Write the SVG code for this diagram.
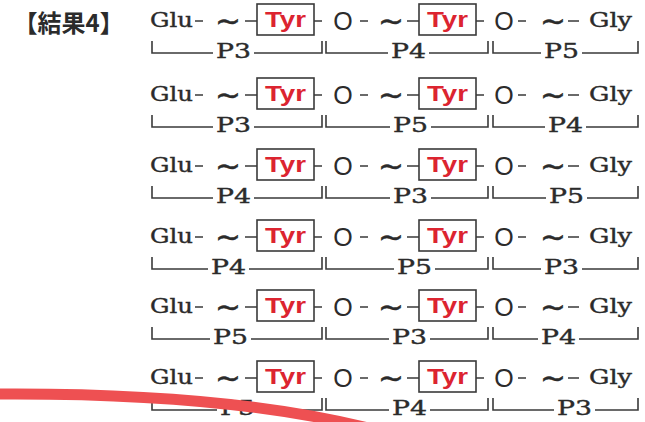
<svg xmlns="http://www.w3.org/2000/svg" width="645" height="422" viewBox="0 0 645 422">
<style>
.aa{font-family:"DejaVu Serif","Liberation Serif",serif;font-size:21px;fill:#2b2b2b;stroke:#2b2b2b;stroke-width:0.4}
.pl{font-family:"DejaVu Serif","Liberation Serif",serif;font-size:21px;fill:#2b2b2b;stroke:#2b2b2b;stroke-width:0.4}
.ty{font-family:"Liberation Sans","DejaVu Sans",sans-serif;font-size:22px;font-weight:bold;fill:#dc2430}
.ox{font-family:"Liberation Sans","DejaVu Sans",sans-serif;font-size:25px;fill:#2b2b2b;text-anchor:middle}
.wv{font-family:"DejaVu Sans",sans-serif;font-size:31px;fill:#2b2b2b;stroke:#2b2b2b;stroke-width:0.5;text-anchor:middle}
.bx{fill:#fff;stroke:#3a3a3a;stroke-width:1.6}
.ln{fill:none;stroke:#3a3a3a;stroke-width:1.6}
.tt{font-family:"Noto Sans CJK JP","Noto Sans CJK SC",sans-serif;font-size:24px;font-weight:bold;fill:#2b2b2b}
</style>
<rect width="645" height="422" fill="#ffffff"/>
<g id="title"><text class="tt" x="13.5" y="32">【結果4】</text></g>

<g id="row1">
<g id="r1-glu"><text class="aa" x="150" y="27" textLength="43" lengthAdjust="spacingAndGlyphs">Glu</text></g>
<g id="r1-w1"><text class="wv" x="228" y="31">~</text></g>
<g id="r1-tyr1"><rect class="bx" x="257" y="4" width="57" height="31"/><text class="ty" x="265" y="27" textLength="41" lengthAdjust="spacingAndGlyphs">Tyr</text></g>
<g id="r1-o1"><text class="ox" x="343" y="30">O</text></g>
<g id="r1-w2"><text class="wv" x="391" y="31">~</text></g>
<g id="r1-tyr2"><rect class="bx" x="419" y="4" width="57" height="31"/><text class="ty" x="427" y="27" textLength="41" lengthAdjust="spacingAndGlyphs">Tyr</text></g>
<g id="r1-o2"><text class="ox" x="504" y="30">O</text></g>
<g id="r1-w3"><text class="wv" x="553" y="31">~</text></g>
<g id="r1-gly"><text class="aa" x="589" y="27" textLength="43" lengthAdjust="spacingAndGlyphs">Gly</text></g>
<g id="r1-p"><text class="pl" x="216" y="58" textLength="35" lengthAdjust="spacingAndGlyphs">P3</text><text class="pl" x="391" y="58" textLength="35" lengthAdjust="spacingAndGlyphs">P4</text><text class="pl" x="544" y="58" textLength="35" lengthAdjust="spacingAndGlyphs">P5</text></g>
</g>

<g id="row2">
<g id="r2-glu"><text class="aa" x="150" y="101" textLength="43" lengthAdjust="spacingAndGlyphs">Glu</text></g>
<g id="r2-w1"><text class="wv" x="228" y="105">~</text></g>
<g id="r2-tyr1"><rect class="bx" x="257" y="78" width="57" height="31"/><text class="ty" x="265" y="101" textLength="41" lengthAdjust="spacingAndGlyphs">Tyr</text></g>
<g id="r2-o1"><text class="ox" x="343" y="104">O</text></g>
<g id="r2-w2"><text class="wv" x="391" y="105">~</text></g>
<g id="r2-tyr2"><rect class="bx" x="419" y="78" width="57" height="31"/><text class="ty" x="427" y="101" textLength="41" lengthAdjust="spacingAndGlyphs">Tyr</text></g>
<g id="r2-o2"><text class="ox" x="504" y="104">O</text></g>
<g id="r2-w3"><text class="wv" x="553" y="105">~</text></g>
<g id="r2-gly"><text class="aa" x="589" y="101" textLength="43" lengthAdjust="spacingAndGlyphs">Gly</text></g>
<g id="r2-p"><text class="pl" x="216" y="132" textLength="35" lengthAdjust="spacingAndGlyphs">P3</text><text class="pl" x="393" y="132" textLength="35" lengthAdjust="spacingAndGlyphs">P5</text><text class="pl" x="548" y="132" textLength="35" lengthAdjust="spacingAndGlyphs">P4</text></g>
</g>

<g id="row3">
<g id="r3-glu"><text class="aa" x="150" y="172" textLength="43" lengthAdjust="spacingAndGlyphs">Glu</text></g>
<g id="r3-w1"><text class="wv" x="228" y="176">~</text></g>
<g id="r3-tyr1"><rect class="bx" x="257" y="149" width="57" height="31"/><text class="ty" x="265" y="172" textLength="41" lengthAdjust="spacingAndGlyphs">Tyr</text></g>
<g id="r3-o1"><text class="ox" x="343" y="175">O</text></g>
<g id="r3-w2"><text class="wv" x="391" y="176">~</text></g>
<g id="r3-tyr2"><rect class="bx" x="419" y="149" width="57" height="31"/><text class="ty" x="427" y="172" textLength="41" lengthAdjust="spacingAndGlyphs">Tyr</text></g>
<g id="r3-o2"><text class="ox" x="504" y="175">O</text></g>
<g id="r3-w3"><text class="wv" x="553" y="176">~</text></g>
<g id="r3-gly"><text class="aa" x="589" y="172" textLength="43" lengthAdjust="spacingAndGlyphs">Gly</text></g>
<g id="r3-p"><text class="pl" x="216" y="203" textLength="35" lengthAdjust="spacingAndGlyphs">P4</text><text class="pl" x="393" y="203" textLength="35" lengthAdjust="spacingAndGlyphs">P3</text><text class="pl" x="549" y="203" textLength="35" lengthAdjust="spacingAndGlyphs">P5</text></g>
</g>

<g id="row4">
<g id="r4-glu"><text class="aa" x="150" y="243" textLength="43" lengthAdjust="spacingAndGlyphs">Glu</text></g>
<g id="r4-w1"><text class="wv" x="228" y="247">~</text></g>
<g id="r4-tyr1"><rect class="bx" x="257" y="220" width="57" height="31"/><text class="ty" x="265" y="243" textLength="41" lengthAdjust="spacingAndGlyphs">Tyr</text></g>
<g id="r4-o1"><text class="ox" x="343" y="246">O</text></g>
<g id="r4-w2"><text class="wv" x="391" y="247">~</text></g>
<g id="r4-tyr2"><rect class="bx" x="419" y="220" width="57" height="31"/><text class="ty" x="427" y="243" textLength="41" lengthAdjust="spacingAndGlyphs">Tyr</text></g>
<g id="r4-o2"><text class="ox" x="504" y="246">O</text></g>
<g id="r4-w3"><text class="wv" x="553" y="247">~</text></g>
<g id="r4-gly"><text class="aa" x="589" y="243" textLength="43" lengthAdjust="spacingAndGlyphs">Gly</text></g>
<g id="r4-p"><text class="pl" x="211" y="274" textLength="35" lengthAdjust="spacingAndGlyphs">P4</text><text class="pl" x="397" y="274" textLength="35" lengthAdjust="spacingAndGlyphs">P5</text><text class="pl" x="544" y="274" textLength="35" lengthAdjust="spacingAndGlyphs">P3</text></g>
</g>

<g id="row5">
<g id="r5-glu"><text class="aa" x="150" y="313" textLength="43" lengthAdjust="spacingAndGlyphs">Glu</text></g>
<g id="r5-w1"><text class="wv" x="228" y="317">~</text></g>
<g id="r5-tyr1"><rect class="bx" x="257" y="290" width="57" height="31"/><text class="ty" x="265" y="313" textLength="41" lengthAdjust="spacingAndGlyphs">Tyr</text></g>
<g id="r5-o1"><text class="ox" x="343" y="316">O</text></g>
<g id="r5-w2"><text class="wv" x="391" y="317">~</text></g>
<g id="r5-tyr2"><rect class="bx" x="419" y="290" width="57" height="31"/><text class="ty" x="427" y="313" textLength="41" lengthAdjust="spacingAndGlyphs">Tyr</text></g>
<g id="r5-o2"><text class="ox" x="504" y="316">O</text></g>
<g id="r5-w3"><text class="wv" x="553" y="317">~</text></g>
<g id="r5-gly"><text class="aa" x="589" y="313" textLength="43" lengthAdjust="spacingAndGlyphs">Gly</text></g>
<g id="r5-p"><text class="pl" x="213" y="344" textLength="35" lengthAdjust="spacingAndGlyphs">P5</text><text class="pl" x="392" y="344" textLength="35" lengthAdjust="spacingAndGlyphs">P3</text><text class="pl" x="541" y="344" textLength="35" lengthAdjust="spacingAndGlyphs">P4</text></g>
</g>

<g id="row6">
<g id="r6-glu"><text class="aa" x="150" y="384" textLength="43" lengthAdjust="spacingAndGlyphs">Glu</text></g>
<g id="r6-w1"><text class="wv" x="228" y="388">~</text></g>
<g id="r6-tyr1"><rect class="bx" x="257" y="361" width="57" height="31"/><text class="ty" x="265" y="384" textLength="41" lengthAdjust="spacingAndGlyphs">Tyr</text></g>
<g id="r6-o1"><text class="ox" x="343" y="387">O</text></g>
<g id="r6-w2"><text class="wv" x="391" y="388">~</text></g>
<g id="r6-tyr2"><rect class="bx" x="419" y="361" width="57" height="31"/><text class="ty" x="427" y="384" textLength="41" lengthAdjust="spacingAndGlyphs">Tyr</text></g>
<g id="r6-o2"><text class="ox" x="504" y="387">O</text></g>
<g id="r6-w3"><text class="wv" x="553" y="388">~</text></g>
<g id="r6-gly"><text class="aa" x="589" y="384" textLength="43" lengthAdjust="spacingAndGlyphs">Gly</text></g>
<g id="r6-p"><text class="pl" x="220" y="415" textLength="35" lengthAdjust="spacingAndGlyphs">P5</text><text class="pl" x="392" y="415" textLength="35" lengthAdjust="spacingAndGlyphs">P4</text><text class="pl" x="557" y="415" textLength="35" lengthAdjust="spacingAndGlyphs">P3</text></g>
</g>

<g id="connectors" class="ln">
<path d="M195,21H203M245,21H257M314,21H322M360,21H368M407,21H419M476,21H484M518,21H526M568,21H579"/>
<path d="M195,95H203M245,95H257M314,95H322M360,95H368M407,95H419M476,95H484M518,95H526M568,95H579"/>
<path d="M195,166H203M245,166H257M314,166H322M360,166H368M407,166H419M476,166H484M518,166H526M568,166H579"/>
<path d="M195,237H203M245,237H257M314,237H322M360,237H368M407,237H419M476,237H484M518,237H526M568,237H579"/>
<path d="M195,307H203M245,307H257M314,307H322M360,307H368M407,307H419M476,307H484M518,307H526M568,307H579"/>
<path d="M195,378H203M245,378H257M314,378H322M360,378H368M407,378H419M476,378H484M518,378H526M568,378H579"/>
<path d="M152,41V53H213M254,53H322V41M326,41V53H388M429,53H488V41M493,41V53H541M582,53H638V41"/>
<path d="M152,115V127H213M254,127H322V115M326,115V127H390M431,127H488V115M493,115V127H545M586,127H638V115"/>
<path d="M152,186V198H213M254,198H322V186M326,186V198H390M431,198H488V186M493,186V198H546M587,198H638V186"/>
<path d="M152,257V269H208M249,269H322V257M326,257V269H394M435,269H488V257M493,257V269H541M582,269H638V257"/>
<path d="M152,327V339H210M251,339H322V327M326,327V339H389M430,339H488V327M493,327V339H538M579,339H638V327"/>
<path d="M152,398V410H217M258,410H322V398M326,398V410H389M430,410H488V398M493,398V410H554M595,410H638V398"/>
</g>

<path d="M-6,394 C120,393 260,400 376,430" fill="none" stroke="#ee5052" stroke-width="11"/>
</svg>
